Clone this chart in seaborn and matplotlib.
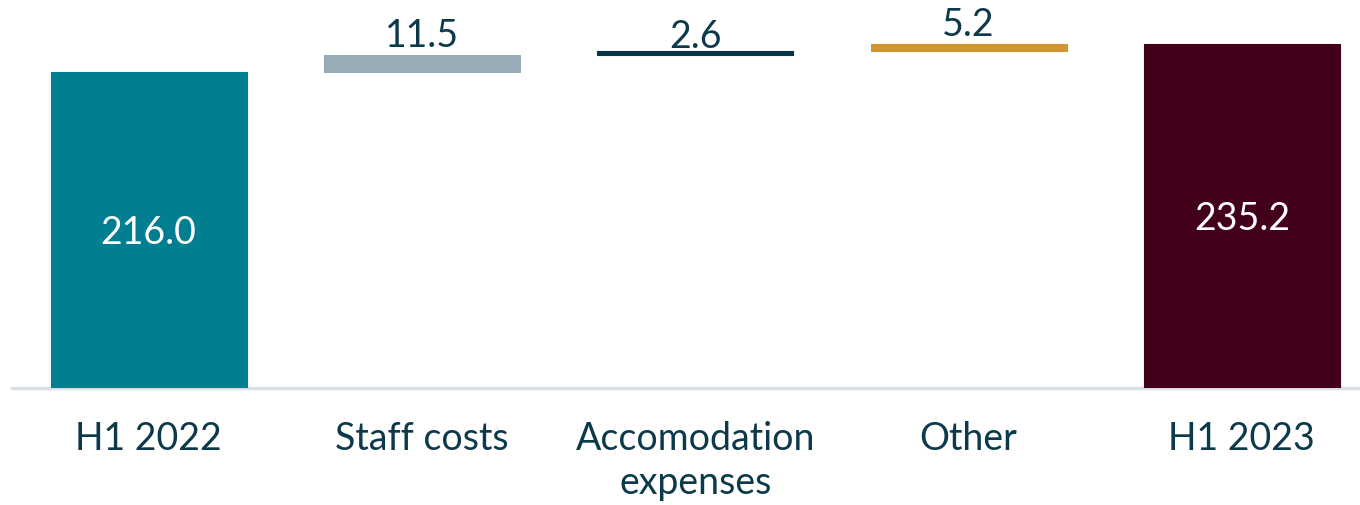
import numpy as np
import pandas as pd
import matplotlib
matplotlib.use("Agg")
import matplotlib.pyplot as plt
import seaborn as sns

categories = ["H1 2022", "Staff costs", "Accomodation\nexpenses", "Other", "H1 2023"]
values = [216.0, 11.5, 2.6, 5.2, 235.2]
is_total = [True, False, False, False, True]
labels = ["216.0", "11.5", "2.6", "5.2", "235.2"]
colors = ["#027e91", "#97acb7", "#043446", "#d09730", "#43001a"]

# waterfall bottoms
bottoms = []
running = 0.0
for v, t in zip(values, is_total):
    if t:
        bottoms.append(0.0)
        running = v
    else:
        bottoms.append(running)
        running += v

df = pd.DataFrame({"category": categories, "value": values, "bottom": bottoms})

sns.set_theme(style="white")
plt.rcParams["font.family"] = ["Lato", "DejaVu Sans"]
text_color = "#0d3a4b"

W, H = 1360, 505
fig = plt.figure(figsize=(W / 100, H / 100), dpi=100)
ax_left_px, ax_bottom_px = 12, 505 - 388
ax = fig.add_axes([ax_left_px / W, ax_bottom_px / H, (W - ax_left_px) / W, 388 / H])

sns.barplot(data=df, x="category", y="value", order=categories, bottom=df["bottom"].values,
            color=colors[0], width=0.717, ax=ax, saturation=1, errorbar=None, zorder=2)
for patch, c in zip(ax.patches, colors):
    patch.set_facecolor(c)
    patch.set_edgecolor(c)
    patch.set_linewidth(0.8)

ax.set_xlim(-0.5, -0.5 + (W - ax_left_px) / 273.3)
ax.set_ylim(0, 388 / 1.463)

for s in ["top", "right", "left"]:
    ax.spines[s].set_visible(False)
ax.spines["bottom"].set_color("#d9dfe2")
ax.spines["bottom"].set_linewidth(2.5)
ax.spines["bottom"].set_zorder(1)

ax.set_xlabel("")
ax.set_ylabel("")
ax.set_yticks([])
ax.tick_params(axis="x", length=0, pad=24, labelsize=27, labelcolor=text_color)
for t in ax.get_xticklabels():
    t.set_linespacing(1.25)

label_offsets_px = [None, 8, 3.4, 7.8, None]
for i, (v, b, t, lab) in enumerate(zip(values, bottoms, is_total, labels)):
    if t:
        ax.annotate(lab, xy=(i, v / 2), xytext=(0, -14 * 0.72), textcoords="offset points",
                    ha="center", va="baseline", fontsize=27, color="white")
    else:
        ax.annotate(lab, xy=(i, b + v), xytext=(0, label_offsets_px[i] * 0.72),
                    textcoords="offset points", ha="center", va="baseline",
                    fontsize=27, color=text_color)

fig.savefig("out.png", dpi=100)
